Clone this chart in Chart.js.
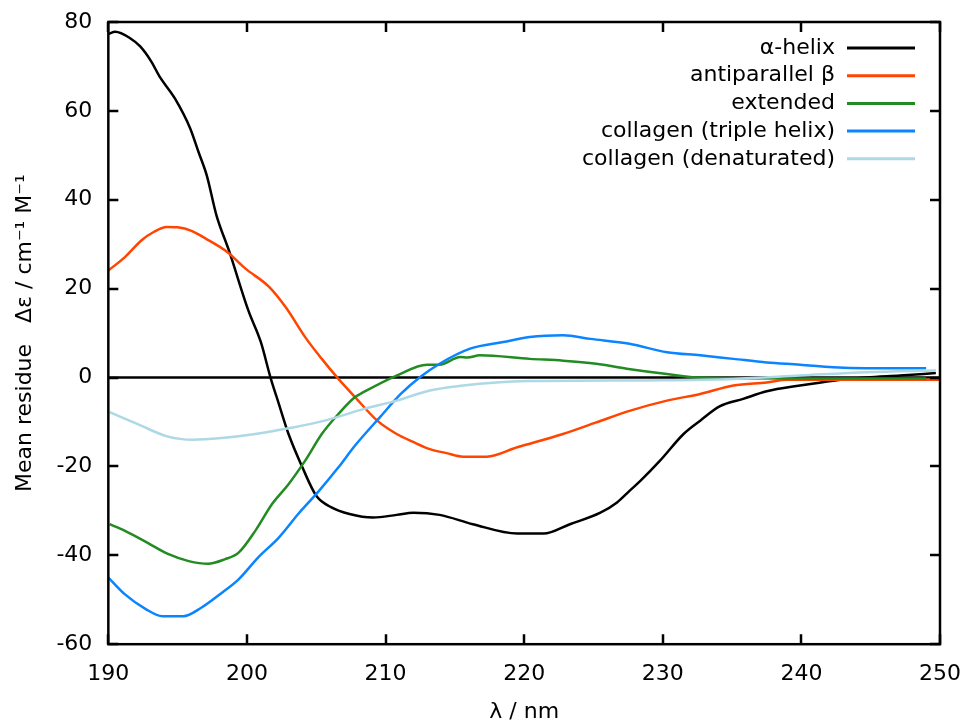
<!DOCTYPE html>
<html>
<head>
<meta charset="utf-8">
<script src="https://cdn.jsdelivr.net/npm/chart.js@4"></script>
<style>
	html, body { margin: 0; padding: 0; background: #fff; }
	#wrap { width: 973px; height: 725px; }
</style>
</head>
<body>
<div id="wrap"><canvas id="myChart" width="973" height="725"></canvas></div>
<script>
'use strict';

// CD reference spectra
var seriesNames = ['α-helix', 'antiparallel β', 'extended', 'collagen (triple helix)', 'collagen (denaturated)'];
var seriesColors = ['#000000', '#ff4500', '#228b22', '#0a84ff', '#add8e6'];

var helixX = [190, 190.5, 191.6, 192.3, 193.1, 193.7, 194.8, 195.9, 196.5, 197.1, 197.8, 198.7, 200.1, 201.0, 201.7, 202.3, 203.0, 204.0, 205.0, 206.1, 207.4, 209.1, 210.8, 212.0, 213.9, 216.3, 219.5, 221.4, 223.3, 225.5, 226.7, 227.6, 228.4, 229.8, 231.5, 232.7, 234.1, 235.8, 237.5, 239.9, 242.3, 244.7, 247.1, 249.7];
var helixY = [77.3, 77.8, 76.3, 74.5, 71.1, 67.7, 62.8, 56.1, 50.8, 45.5, 36.5, 28.6, 15.1, 8.0, 0, -5.9, -12.7, -20.2, -26.6, -29.2, -30.7, -31.5, -30.9, -30.4, -30.9, -33.0, -35.1, -35.1, -33.0, -30.4, -28.1, -25.5, -23.2, -18.7, -12.7, -9.7, -6.5, -4.8, -3.1, -1.8, -0.7, 0, 0.45, 1.0];

var betaX = [190, 191.2, 192.4, 193.3, 194.2, 195.0, 196.0, 197.0, 198.6, 199.9, 201.6, 202.8, 204.2, 205.4, 206.6, 207.8, 209.4, 210.8, 212.0, 213.2, 214.4, 215.6, 217.3, 219.5, 222.8, 225.2, 227.6, 230.3, 232.7, 235.1, 237.5, 239.0, 244, 250];
var betaY = [24.1, 27.1, 30.9, 32.8, 33.9, 33.8, 33.0, 31.3, 28.2, 24.5, 20.4, 15.8, 9.1, 4.2, -0.3, -4.4, -9.7, -12.7, -14.5, -16.1, -17.0, -17.8, -17.8, -15.7, -12.7, -10.1, -7.5, -5.2, -3.7, -1.8, -1.1, -0.5, -0.5, -0.5];

var extX = [190.1, 191.2, 192.9, 194.3, 195.8, 197.2, 198.4, 199.4, 200.6, 201.8, 203.0, 204.2, 205.4, 206.6, 207.8, 208.4, 210.8, 213.0, 213.9, 215.4, 215.9, 216.8, 220.4, 222.8, 225.2, 227.4, 230.3, 232.7, 240, 249];
var extY = [-33.0, -34.5, -37.3, -39.7, -41.3, -41.9, -40.9, -39.4, -34.5, -28.5, -24.0, -18.7, -12.7, -8.2, -4.4, -3.3, 0.45, 2.9, 2.9, 4.6, 4.5, 5.0, 4.2, 3.8, 3.1, 2.0, 0.8, 0, -0.2, -0.2];

var tripleX = [190.0, 191.2, 192.7, 193.9, 195.4, 196.7, 198.2, 199.4, 200.8, 202.3, 203.7, 205.2, 206.6, 207.8, 209.6, 211.1, 212.5, 213.9, 216.1, 218.5, 220.4, 222.8, 224.8, 227.6, 230.3, 232.7, 235.1, 237.5, 239.9, 242.3, 244.7, 249];
var tripleY = [-45.0, -48.8, -52.1, -53.7, -53.7, -51.8, -48.4, -45.4, -40.5, -36.0, -30.7, -25.5, -20.2, -15.3, -8.9, -3.7, 0.1, 3.1, 6.5, 8.0, 9.1, 9.5, 8.7, 7.6, 5.7, 5.0, 4.2, 3.4, 2.9, 2.3, 2.1, 2.1];

var denatX = [190.1, 192.2, 194.3, 196.1, 198.2, 200.6, 203.2, 205.6, 208.4, 210.8, 213.2, 215.6, 218.0, 220.4, 230, 235.1, 239.9, 244.7, 249.7];
var denatY = [-7.8, -10.6, -13.3, -14.0, -13.6, -12.7, -11.3, -9.7, -7.1, -5.2, -2.9, -1.8, -1.1, -0.8, -0.6, -0.3, 0.45, 1.2, 1.6];

var xTicks = [190, 200, 210, 220, 230, 240, 250];
var yTicks = [-60, -40, -20, 0, 20, 40, 60, 80];

var allX = [helixX, betaX, extX, tripleX, denatX];
var allY = [helixY, betaY, extY, tripleY, denatY];

function toPoints(xs, ys) {
	return xs.map(function (x, i) { return { x: x, y: ys[i] }; });
}

Chart.defaults.font.family = "'DejaVu Sans', sans-serif";
Chart.defaults.font.size = 22;
Chart.defaults.color = '#000';

// gnuplot-like frame, inward ticks, zero axis and legend
var frameTicks = {
	id: 'frameTicks',
	beforeDatasetsDraw: function (chart) {
		var ctx = chart.ctx, a = chart.chartArea, ys = chart.scales.y;
		ctx.save();
		ctx.strokeStyle = '#000';
		ctx.lineWidth = 2.5;
		var y0 = ys.getPixelForValue(0);
		ctx.beginPath();
		ctx.moveTo(a.left, y0);
		ctx.lineTo(a.right, y0);
		ctx.stroke();
		ctx.restore();
	},
	afterDraw: function (chart) {
		var ctx = chart.ctx, a = chart.chartArea;
		var xs = chart.scales.x, ys = chart.scales.y;
		var len = 10;
		ctx.save();
		ctx.strokeStyle = '#000';
		ctx.lineWidth = 2.5;
		ctx.beginPath();
		xTicks.forEach(function (v) {
			var px = Math.round(xs.getPixelForValue(v));
			ctx.moveTo(px, a.bottom); ctx.lineTo(px, a.bottom - len);
			ctx.moveTo(px, a.top); ctx.lineTo(px, a.top + len);
		});
		yTicks.forEach(function (v) {
			var py = Math.round(ys.getPixelForValue(v));
			ctx.moveTo(a.left, py); ctx.lineTo(a.left + len, py);
			ctx.moveTo(a.right, py); ctx.lineTo(a.right - len, py);
		});
		ctx.stroke();
		ctx.strokeRect(a.left, a.top, a.right - a.left, a.bottom - a.top);

		// legend
		ctx.font = "22px 'DejaVu Sans'";
		ctx.textAlign = 'right';
		ctx.textBaseline = 'middle';
		ctx.lineWidth = 3;
		chart.data.datasets.forEach(function (ds, i) {
			var ly = a.top + 26 + i * 27.7;
			ctx.fillStyle = '#000';
			ctx.fillText(ds.label, a.right - 105, ly);
			ctx.strokeStyle = ds.borderColor;
			ctx.beginPath();
			ctx.moveTo(a.right - 93, ly);
			ctx.lineTo(a.right - 25, ly);
			ctx.stroke();
		});
		ctx.restore();
	}
};

var datasets = seriesNames.map(function (name, i) {
	return {
		label: name,
		data: toPoints(allX[i], allY[i]),
		borderColor: seriesColors[i],
		borderWidth: 2.5,
		pointRadius: 0,
		fill: false,
		cubicInterpolationMode: 'monotone',
		order: seriesNames.length - i
	};
});

var ctx = document.getElementById('myChart').getContext('2d');
var myChart = new Chart(ctx, {
	type: 'line',
	data: { datasets: datasets },
	plugins: [frameTicks],
	options: {
		responsive: false,
		animation: false,
		layout: { padding: { top: 22, right: 33, left: 12, bottom: 0 } },
		plugins: {
			legend: { display: false },
			tooltip: { enabled: false }
		},
		scales: {
			x: {
				type: 'linear',
				min: 190,
				max: 250,
				afterBuildTicks: function (axis) { axis.ticks = xTicks.map(function (v) { return { value: v }; }); },
				afterFit: function (axis) { axis.paddingLeft = 0; axis.paddingRight = 0; },
				grid: { display: false, drawTicks: false },
				border: { display: false },
				ticks: { padding: 17, maxRotation: 0 },
				title: { display: true, text: 'λ / nm', padding: { top: -6, bottom: 0 } }
			},
			y: {
				type: 'linear',
				min: -60,
				max: 80,
				afterBuildTicks: function (axis) { axis.ticks = yTicks.map(function (v) { return { value: v }; }); },
				afterFit: function (axis) { axis.paddingTop = 0; axis.paddingBottom = 0; },
				grid: { display: false, drawTicks: false },
				border: { display: false },
				ticks: { padding: 16 },
				title: { display: true, text: 'Mean residue   Δε / cm⁻¹ M⁻¹', padding: { top: 0, bottom: 2 } }
			}
		}
	}
});
</script>
</body>
</html>
